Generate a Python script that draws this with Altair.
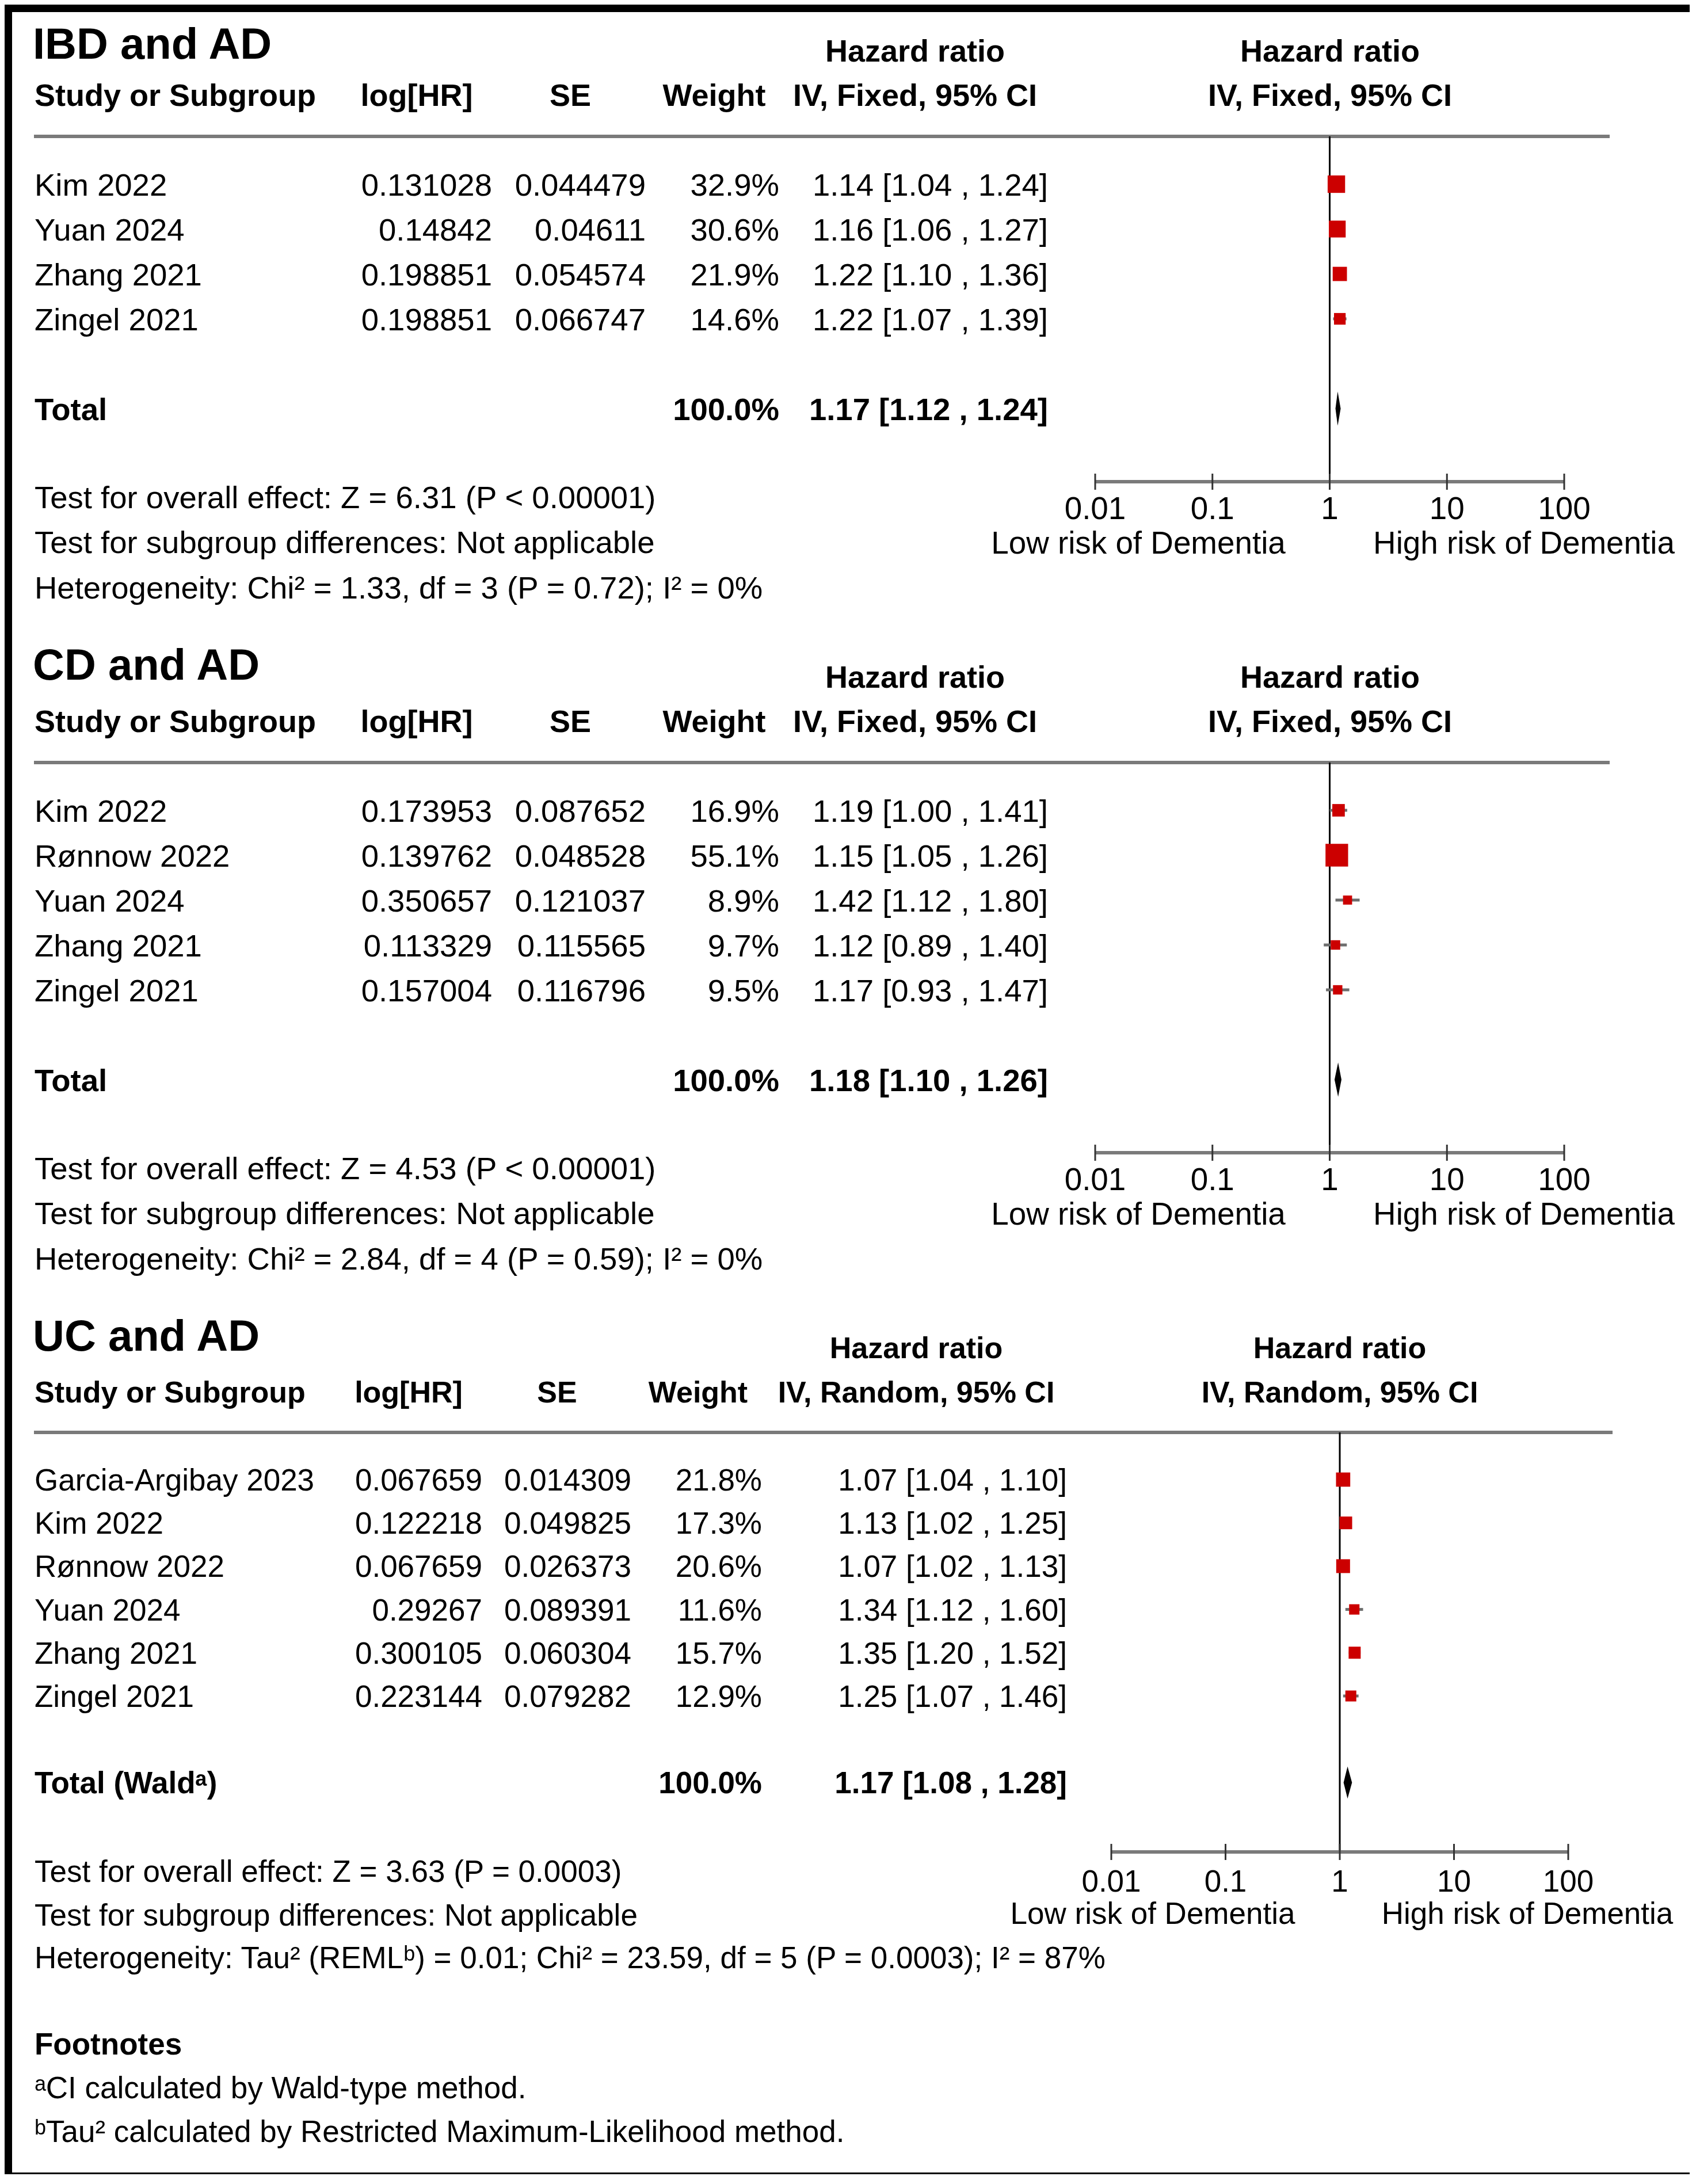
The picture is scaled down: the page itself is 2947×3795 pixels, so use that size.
import altair as alt
import pandas as pd

FONT = "Liberation Sans"
RED = "#cc0000"

# ---------------- data ----------------
ibd_study = ["Kim 2022", "Yuan 2024", "Zhang 2021", "Zingel 2021"]
ibd_loghr = [0.131028, 0.14842, 0.198851, 0.198851]
ibd_se = [0.044479, 0.04611, 0.054574, 0.066747]
ibd_weight = [32.9, 30.6, 21.9, 14.6]
ibd_hr = [1.14, 1.16, 1.22, 1.22]
ibd_lo = [1.04, 1.06, 1.10, 1.07]
ibd_hi = [1.24, 1.27, 1.36, 1.39]
ibd_total = [1.17, 1.12, 1.24]
ibd_stats = ["Test for overall effect: Z = 6.31 (P < 0.00001)",
             "Test for subgroup differences: Not applicable",
             "Heterogeneity: Chi² = 1.33, df = 3 (P = 0.72); I² = 0%"]

cd_study = ["Kim 2022", "Rønnow 2022", "Yuan 2024", "Zhang 2021", "Zingel 2021"]
cd_loghr = [0.173953, 0.139762, 0.350657, 0.113329, 0.157004]
cd_se = [0.087652, 0.048528, 0.121037, 0.115565, 0.116796]
cd_weight = [16.9, 55.1, 8.9, 9.7, 9.5]
cd_hr = [1.19, 1.15, 1.42, 1.12, 1.17]
cd_lo = [1.00, 1.05, 1.12, 0.89, 0.93]
cd_hi = [1.41, 1.26, 1.80, 1.40, 1.47]
cd_total = [1.18, 1.10, 1.26]
cd_stats = ["Test for overall effect: Z = 4.53 (P < 0.00001)",
            "Test for subgroup differences: Not applicable",
            "Heterogeneity: Chi² = 2.84, df = 4 (P = 0.59); I² = 0%"]

uc_study = ["Garcia-Argibay 2023", "Kim 2022", "Rønnow 2022", "Yuan 2024", "Zhang 2021", "Zingel 2021"]
uc_loghr = [0.067659, 0.122218, 0.067659, 0.29267, 0.300105, 0.223144]
uc_se = [0.014309, 0.049825, 0.026373, 0.089391, 0.060304, 0.079282]
uc_weight = [21.8, 17.3, 20.6, 11.6, 15.7, 12.9]
uc_hr = [1.07, 1.13, 1.07, 1.34, 1.35, 1.25]
uc_lo = [1.04, 1.02, 1.02, 1.12, 1.20, 1.07]
uc_hi = [1.10, 1.25, 1.13, 1.60, 1.52, 1.46]
uc_total = [1.17, 1.08, 1.28]
uc_stats = ["Test for overall effect: Z = 3.63 (P = 0.0003)",
            "Test for subgroup differences: Not applicable",
            "Heterogeneity: Tau² (REMLᵇ) = 0.01; Chi² = 23.59, df = 5 (P = 0.0003); I² = 87%"]

footnotes = ["Footnotes", "ᵃCI calculated by Wald-type method.",
             "ᵇTau² calculated by Restricted Maximum-Likelihood method."]

ticks = [0.01, 0.1, 1, 10, 100]
tick_labels = ["0.01", "0.1", "1", "10", "100"]

W = 2928
BORDER = 13


def fmt_ci(est, lo, hi):
    return f"{est:.2f} [{lo:.2f} , {hi:.2f}]"


def stext(s, x, y, fs, bold=False, align="left"):
    return alt.Chart(pd.DataFrame({"t": [s]})).mark_text(
        font=FONT, fontSize=fs, fontWeight="bold" if bold else "normal",
        align=align, baseline="alphabetic", color="black"
    ).encode(x=alt.value(x), y=alt.value(y), text="t:N")


def box(one, x0, x1, y0, y1):
    return alt.Chart(one).mark_rect(color="black", strokeWidth=0).encode(
        x=alt.value(x0), x2=alt.value(x1), y=alt.value(y0), y2=alt.value(y1))


def section(title, method, studies, loghr, se, weight, hr, lo, hi, total,
            total_label, stats, G, extra=None, top=False, bottom=False):
    ox = BORDER
    oy = BORDER if top else 0

    def px(v):
        return v + ox

    def py(v):
        return v + oy

    n = len(studies)
    H = G["H"] + oy
    F, R = G["F"] + oy, G["R"]
    fs, hs, ts = G["fs"], G["hs"], G["ts"]
    df = pd.DataFrame({
        "row": list(range(n)), "study": studies,
        "loghr": [str(v) for v in loghr], "se": [str(v) for v in se],
        "wt": [f"{v:.1f}%" for v in weight], "w": weight,
        "hr": hr, "lo": lo, "hi": hi,
        "ci": [fmt_ci(a, b, c) for a, b, c in zip(hr, lo, hi)],
    })
    trow = n + 1
    tot = pd.DataFrame({"row": [trow], "label": [total_label], "wt": ["100.0%"],
                        "ci": [fmt_ci(*total)]})
    h = G["dh"]
    dia = pd.DataFrame({"x": [total[1], total[0], total[2]],
                        "y": [trow, trow - h, trow], "y2": [trow, trow + h, trow]})
    tk = pd.DataFrame({"tick": ticks, "label": tick_labels})
    one = pd.DataFrame({"a": [0]})

    xsc = alt.Scale(type="log", domain=[0.01, 100],
                    range=[px(G["xr"][0]), px(G["xr"][1])], nice=False)
    ysc = alt.Scale(domain=[-F / R, (H - F) / R], range=[0, H], nice=False, zero=False)

    def X(f):
        return alt.X(f, scale=xsc, axis=None)

    def Y(f):
        return alt.Y(f, scale=ysc, axis=None)

    def col(data, field, x, align, bold=False):
        return alt.Chart(data).mark_text(
            font=FONT, fontSize=fs, fontWeight="bold" if bold else "normal",
            align=align, baseline="alphabetic", dy=round(0.36 * fs), color="black"
        ).encode(x=alt.value(px(x)), y=Y("row:Q"), text=f"{field}:N")

    c = G["cols"]
    hc = G["hcols"]
    ay = py(G["ax_y"])
    layers = [
        box(one, 0, BORDER, 0, H),
        stext(title, px(G["title"][0]), py(G["title"][1]), 76, bold=True),
        stext("Hazard ratio", px(hc["ci"]), py(G["hr_y"]), hs, True, "center"),
        stext("Hazard ratio", px(hc["plot"]), py(G["hr_y"]), hs, True, "center"),
        stext("Study or Subgroup", px(c["name"]), py(G["head_y"]), hs, True, "left"),
        stext("log[HR]", px(hc["log"]), py(G["head_y"]), hs, True, "center"),
        stext("SE", px(hc["se"]), py(G["head_y"]), hs, True, "center"),
        stext("Weight", px(hc["w"]), py(G["head_y"]), hs, True, "center"),
        stext(method, px(hc["ci"]), py(G["head_y"]), hs, True, "center"),
        stext(method, px(hc["plot"]), py(G["head_y"]), hs, True, "center"),
        # header rule
        alt.Chart(one).mark_rule(color="#7a7a7a", strokeWidth=6).encode(
            x=alt.value(px(G["line_x"][0])), x2=alt.value(px(G["line_x"][1])),
            y=alt.value(py(G["line_y"]))),
        # line of no effect
        alt.Chart(one).mark_rule(color="black", strokeWidth=3).encode(
            x=alt.XDatum(1, scale=xsc, axis=None), y=alt.value(py(G["line_y"])), y2=alt.value(ay)),
        # axis
        alt.Chart(one).mark_rule(color="#7a7a7a", strokeWidth=6).encode(
            x=alt.XDatum(0.01, scale=xsc, axis=None), x2=alt.X2Datum(100), y=alt.value(ay)),
        alt.Chart(tk).mark_rule(color="#333333", strokeWidth=3).encode(
            x=X("tick:Q"), y=alt.value(ay - 14), y2=alt.value(ay + 14)),
        alt.Chart(tk).mark_text(font=FONT, fontSize=ts, align="center", baseline="alphabetic",
                                color="black").encode(
            x=X("tick:Q"), y=alt.value(py(G["tick_y"])), text="label:N"),
        stext("Low risk of Dementia", px(G["low_x"]), py(G["risk_y"]), ts, False, "center"),
        stext("High risk of Dementia", px(G["high_x"]), py(G["risk_y"]), ts, False, "center"),
        # CI whiskers and boxes
        alt.Chart(df).mark_rule(color="#6e6e6e", strokeWidth=5).encode(
            x=X("lo:Q"), x2="hi:Q", y=Y("row:Q")),
        alt.Chart(df).mark_square(color=RED, opacity=1, filled=True).encode(
            x=X("hr:Q"), y=Y("row:Q"),
            size=alt.Size("w:Q", scale=alt.Scale(domain=[0, 100], range=[0, 2800]), legend=None)),
        alt.Chart(dia).mark_area(color="black", orient="vertical").encode(
            x=X("x:Q"), y=Y("y:Q"), y2="y2:Q"),
        # table columns
        col(df, "study", c["name"], "left"),
        col(df, "loghr", c["log"], "right"),
        col(df, "se", c["se"], "right"),
        col(df, "wt", c["w"], "right"),
        col(df, "ci", c["ci"], "right"),
        col(tot, "label", c["name"], "left", True),
        col(tot, "wt", c["w"], "right", True),
        col(tot, "ci", c["ci"], "right", True),
    ]
    if top:
        layers.append(box(one, 0, W, 0, BORDER))
    if bottom:
        layers.append(box(one, 0, W, H - 3, H))
    for s, y in zip(stats, G["foot_y"]):
        layers.append(stext(s, px(c["name"]), py(y), fs))
    if extra:
        for i, (s, y) in enumerate(zip(extra, G["note_y"])):
            layers.append(stext(s, px(c["name"]), py(y), fs, bold=(i == 0)))
    return alt.layer(*layers).properties(width=W, height=H)


G1 = dict(H=1088, F=299, R=78, fs=54.5, hs=54, ts=54.8, dh=0.38,
          title=(36, 81), hr_y=86, head_y=163,
          hcols=dict(log=703, se=970, w=1220, ci=1569, plot=2290),
          cols=dict(name=39, log=834, se=1101, w=1333, ci=1800),
          line_y=216, line_x=(38, 2776), xr=(1882, 2697),
          ax_y=816, tick_y=881, risk_y=941, low_x=1957, high_x=2627,
          foot_y=[862, 940, 1019])
G2 = dict(G1, H=1166, title=(36, 72), ax_y=894, tick_y=959, risk_y=1019,
          foot_y=[940, 1018, 1097])
G3 = dict(H=1503, F=296, R=75.2, fs=53, hs=52, ts=53, dh=0.37,
          title=(36, 72), hr_y=85, head_y=162,
          hcols=dict(log=689, se=947, w=1192, ci=1571, plot=2307),
          cols=dict(name=39, log=817, se=1076, w=1303, ci=1833),
          line_y=214, line_x=(38, 2781), xr=(1910, 2704),
          ax_y=943, tick_y=1012, risk_y=1068, low_x=1982, high_x=2633,
          foot_y=[995, 1071, 1145], note_y=[1295, 1371, 1447])

s1 = section("IBD and AD", "IV, Fixed, 95% CI", ibd_study, ibd_loghr, ibd_se, ibd_weight,
             ibd_hr, ibd_lo, ibd_hi, ibd_total, "Total", ibd_stats, G1, top=True)
s2 = section("CD and AD", "IV, Fixed, 95% CI", cd_study, cd_loghr, cd_se, cd_weight,
             cd_hr, cd_lo, cd_hi, cd_total, "Total", cd_stats, G2)
s3 = section("UC and AD", "IV, Random, 95% CI", uc_study, uc_loghr, uc_se, uc_weight,
             uc_hr, uc_lo, uc_hi, uc_total, "Total (Waldᵃ)", uc_stats, G3,
             extra=footnotes, bottom=True)

chart = alt.vconcat(s1, s2, s3, spacing=0, bounds="flush").properties(
    background="white",
    padding=0,
).configure_view(fill="white", stroke=None)

chart.save("out.html", embed_options={"renderer": "svg", "actions": False})
